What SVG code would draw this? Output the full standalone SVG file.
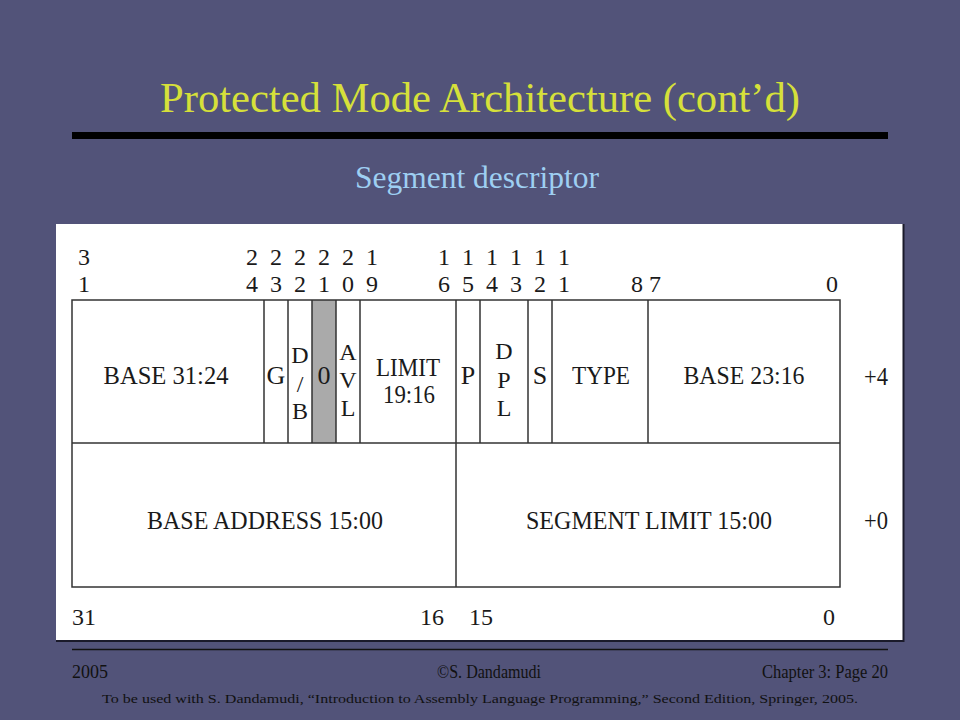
<svg xmlns="http://www.w3.org/2000/svg" width="960" height="720" viewBox="0 0 960 720">
<style>
.t{font-family:"Liberation Serif","Times New Roman","DejaVu Serif","Noto Serif",serif;fill:#1a1a1a;}
.c{font-size:26px;text-anchor:middle;}
.s{font-size:24px;text-anchor:middle;}
.n{font-size:24px;text-anchor:middle;}
.ln{stroke:#333;stroke-width:1.5;fill:none;}
.f{font-family:"Liberation Serif","Times New Roman","DejaVu Serif","Noto Serif",serif;fill:#111;}
.hd{font-family:"Liberation Serif","Times New Roman","DejaVu Serif","Noto Serif",serif;text-anchor:middle;}
</style>
<rect x="0" y="0" width="960" height="720" fill="#525379"/>
<g id="title">
<text class="hd" x="480" y="112" font-size="43" fill="#d6e03a" textLength="640" lengthAdjust="spacingAndGlyphs">Protected Mode Architecture (cont’d)</text>
<rect x="72" y="132" width="816" height="7" fill="#000"/>
<text class="hd" x="477" y="188" font-size="31" fill="#9ecff2" textLength="244" lengthAdjust="spacingAndGlyphs">Segment descriptor</text>
</g>
<g id="panel">
<rect x="56" y="224" width="847" height="416" fill="#fff"/>
<path d="M903.5 224 V641 H56" stroke="#1a1a2a" stroke-width="2" fill="none"/>
</g>
<g id="bitnumbers" class="t">
<text class="n" x="84" y="265">3</text><text class="n" x="84" y="292">1</text>
<text class="n" x="252" y="265">2</text><text class="n" x="252" y="292">4</text>
<text class="n" x="276" y="265">2</text><text class="n" x="276" y="292">3</text>
<text class="n" x="300" y="265">2</text><text class="n" x="300" y="292">2</text>
<text class="n" x="324" y="265">2</text><text class="n" x="324" y="292">1</text>
<text class="n" x="348" y="265">2</text><text class="n" x="348" y="292">0</text>
<text class="n" x="372" y="265">1</text><text class="n" x="372" y="292">9</text>
<text class="n" x="444" y="265">1</text><text class="n" x="444" y="292">6</text>
<text class="n" x="468" y="265">1</text><text class="n" x="468" y="292">5</text>
<text class="n" x="492" y="265">1</text><text class="n" x="492" y="292">4</text>
<text class="n" x="516" y="265">1</text><text class="n" x="516" y="292">3</text>
<text class="n" x="540" y="265">1</text><text class="n" x="540" y="292">2</text>
<text class="n" x="564" y="265">1</text><text class="n" x="564" y="292">1</text>
<text class="n" x="637" y="292">8</text>
<text class="n" x="655" y="292">7</text>
<text class="n" x="832" y="292">0</text>
</g>
<g id="table">
<rect x="312" y="300" width="24" height="143" fill="#aaaaaa"/>
<rect class="ln" x="72" y="300" width="768" height="287"/>
<line class="ln" x1="72" y1="443" x2="840" y2="443"/>
<path class="ln" d="M264 300V443M288 300V443M312 300V443M336 300V443M360 300V443M456 300V587M480 300V443M528 300V443M552 300V443M648 300V443"/>
</g>
<g id="row4" class="t">
<text class="c" x="166" y="384" textLength="125" lengthAdjust="spacingAndGlyphs">BASE 31:24</text>
<text class="c" x="276" y="384">G</text>
<text class="s" x="300" y="363">D</text><text class="s" x="300" y="392" font-size="21">/</text><text class="s" x="300" y="419">B</text>
<text class="c" x="324" y="384">0</text>
<text class="s" x="348" y="360">A</text><text class="s" x="348" y="388">V</text><text class="s" x="348" y="416">L</text>
<text class="c" x="408" y="376" textLength="64" lengthAdjust="spacingAndGlyphs">LIMIT</text><text class="c" x="409" y="403" textLength="52" lengthAdjust="spacingAndGlyphs">19:16</text>
<text class="c" x="468" y="384">P</text>
<text class="s" x="504" y="359">D</text><text class="s" x="504" y="388">P</text><text class="s" x="504" y="416">L</text>
<text class="c" x="540" y="384">S</text>
<text class="c" x="601" y="384" textLength="58" lengthAdjust="spacingAndGlyphs">TYPE</text>
<text class="c" x="744" y="384" textLength="121" lengthAdjust="spacingAndGlyphs">BASE 23:16</text>
<text class="c" x="876" y="385" textLength="24" lengthAdjust="spacingAndGlyphs">+4</text>
</g>
<g id="row0" class="t">
<text class="c" x="265" y="529" textLength="236" lengthAdjust="spacingAndGlyphs">BASE ADDRESS 15:00</text>
<text class="c" x="649" y="529" textLength="246" lengthAdjust="spacingAndGlyphs">SEGMENT LIMIT 15:00</text>
<text class="c" x="876" y="529" textLength="24" lengthAdjust="spacingAndGlyphs">+0</text>
</g>
<g id="bottomnumbers" class="t">
<text x="72" y="625" font-size="24" textLength="24" lengthAdjust="spacingAndGlyphs">31</text>
<text x="420" y="625" font-size="24" textLength="24" lengthAdjust="spacingAndGlyphs">16</text>
<text x="469" y="625" font-size="24" textLength="24" lengthAdjust="spacingAndGlyphs">15</text>
<text x="829" y="625" font-size="24" text-anchor="middle">0</text>
</g>
<g id="footer">
<line x1="72" y1="649.5" x2="888" y2="649.5" stroke="#111" stroke-width="1.5"/>
<text class="f" x="72" y="678" font-size="18" textLength="36" lengthAdjust="spacingAndGlyphs">2005</text>
<text class="f" x="437" y="678" font-size="18" textLength="104" lengthAdjust="spacingAndGlyphs">©S. Dandamudi</text>
<text class="f" x="762" y="678" font-size="18" textLength="126" lengthAdjust="spacingAndGlyphs">Chapter 3: Page 20</text>
<text class="f" x="102" y="703" font-size="13" textLength="756" lengthAdjust="spacingAndGlyphs">To be used with S. Dandamudi, “Introduction to Assembly Language Programming,” Second Edition, Springer, 2005.</text>
</g>
</svg>
